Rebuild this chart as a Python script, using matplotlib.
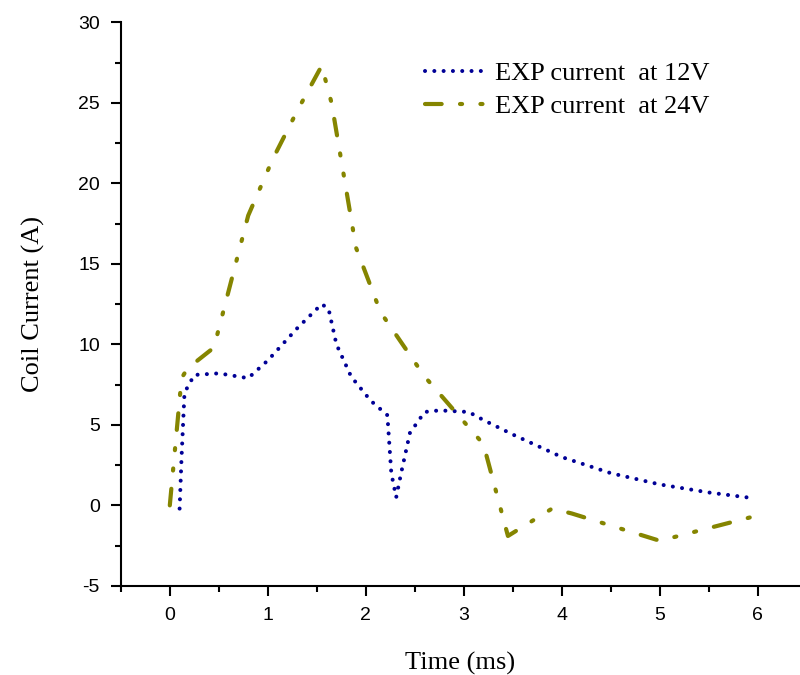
import matplotlib.pyplot as plt
from matplotlib.ticker import MultipleLocator

plt.rcParams['axes.unicode_minus'] = False

t_12v = [0.10, 0.12, 0.15, 0.25, 0.50, 0.80, 1.00, 1.30, 1.55, 1.62, 1.70, 1.85,
         2.05, 2.22, 2.26, 2.31, 2.36, 2.45, 2.60, 2.75, 3.05, 3.20, 3.50, 4.00,
         4.50, 5.00, 5.50, 5.95]
i_12v = [-0.2, 3.0, 7.0, 8.1, 8.2, 7.9, 9.0, 11.0, 12.5, 12.2, 10.0, 8.0,
         6.5, 5.6, 2.0, 0.5, 2.0, 4.5, 5.8, 5.9, 5.8, 5.3, 4.4, 3.0,
         2.0, 1.3, 0.8, 0.45]

t_24v = [0.0, 0.12, 0.18, 0.45, 0.80, 1.05, 1.30, 1.55, 1.65, 1.90, 2.15, 2.60,
         3.20, 3.45, 3.90, 4.10, 5.00, 5.95]
i_24v = [0.0, 7.9, 8.5, 9.8, 18.0, 21.5, 24.5, 27.3, 25.0, 16.0, 12.0, 8.0,
         3.8, -1.9, -0.2, -0.5, -2.2, -0.7]

labels = ['EXP current  at 12V', 'EXP current  at 24V']

fig = plt.figure(figsize=(8, 6.75), dpi=100)
ax = fig.add_axes([0.151, 0.132, 0.849, 0.835])

ax.plot(t_12v, i_12v, color='#000096', lw=2.9, linestyle=(0, (0.01, 2.3)),
        dash_capstyle='round', label=labels[0])
ax.plot(t_24v, i_24v, color='#858500', lw=3.0,
        linestyle=(0, (4, 4.4, 0.5, 4.4, 0.5, 4.4)),
        dash_capstyle='round', label=labels[1])

ax.set_xlim(-0.5, 6.43)
ax.set_ylim(-5, 30)
ax.xaxis.set_major_locator(MultipleLocator(1))
ax.xaxis.set_minor_locator(MultipleLocator(0.5))
ax.yaxis.set_major_locator(MultipleLocator(5))
ax.yaxis.set_minor_locator(MultipleLocator(2.5))

for side in ['top', 'right']:
    ax.spines[side].set_visible(False)
for side in ['left', 'bottom']:
    ax.spines[side].set_linewidth(1.5)

ax.tick_params(which='major', direction='out', length=7, width=1.5,
               labelsize=14, pad=8)
ax.tick_params(which='minor', direction='out', length=4, width=1.5)
for lab in ax.get_xticklabels() + ax.get_yticklabels():
    lab.set_family('Liberation Sans')

ax.set_xlabel('Time (ms)', family='Liberation Serif', fontsize=19, labelpad=20)
ax.set_ylabel('Coil Current (A)', family='Liberation Serif', fontsize=19,
              labelpad=24)

ax.legend(loc='upper left', bbox_to_anchor=(0.448, 0.93), frameon=False,
          prop={'family': 'Liberation Serif', 'size': 19}, handlelength=2.2,
          handletextpad=0.45, labelspacing=0.35, borderpad=0, borderaxespad=0)

fig.savefig('out.png', dpi=100)
